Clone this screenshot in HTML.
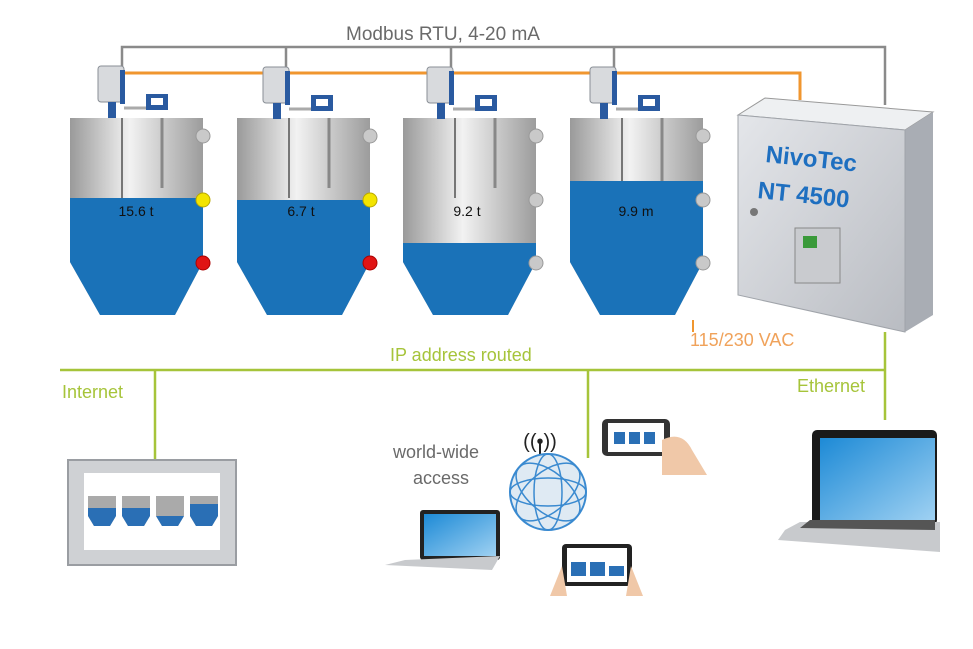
<!DOCTYPE html>
<html><head><meta charset="utf-8"><style>
html,body{margin:0;padding:0;background:#fff;}
svg{display:block;font-family:"Liberation Sans",sans-serif;}
</style></head><body>
<svg width="973" height="649" viewBox="0 0 973 649" xmlns="http://www.w3.org/2000/svg">
<defs>
<linearGradient id="steel" x1="0" x2="1">
<stop offset="0" stop-color="#9a9a9a"/><stop offset="0.45" stop-color="#f2f2f2"/><stop offset="1" stop-color="#9c9c9c"/>
</linearGradient>
<linearGradient id="cab" x1="0" x2="1" y1="0" y2="1">
<stop offset="0" stop-color="#e4e6ea"/><stop offset="1" stop-color="#b9bcc2"/>
</linearGradient>
<linearGradient id="scr" x1="0" x2="1" y1="0" y2="1">
<stop offset="0" stop-color="#1d8ad6"/><stop offset="1" stop-color="#9fd1f2"/>
</linearGradient>
<g id="tank">
<path d="M0 0H133V144L105 197H30L0 144Z" fill="url(#steel)"/>
<line x1="52" y1="0" x2="52" y2="80" stroke="#777" stroke-width="2"/>
<line x1="92" y1="0" x2="92" y2="70" stroke="#888" stroke-width="3"/>
</g>
<g id="xmit">
<rect x="0" y="0" width="26" height="36" rx="3" fill="#d8dadd" stroke="#8a8f96"/>
<rect x="22" y="4" width="5" height="34" fill="#2a5aa0"/>
<rect x="10" y="36" width="8" height="16" fill="#2a5aa0"/>
<line x1="26" y1="42" x2="50" y2="42" stroke="#aaa" stroke-width="3"/>
<rect x="48" y="28" width="22" height="16" fill="#2a5aa0"/>
<rect x="53" y="32" width="12" height="7" fill="#fff"/>
</g>
</defs>

<!-- Modbus gray line -->
<text x="443" y="40" font-size="19" fill="#6a6a6a" text-anchor="middle">Modbus RTU, 4-20 mA</text>
<polyline points="122,70 122,47 885,47 885,105" fill="none" stroke="#8a8a8a" stroke-width="2.5"/>
<line x1="286" y1="47" x2="286" y2="70" stroke="#8a8a8a" stroke-width="2.5"/>
<line x1="451" y1="47" x2="451" y2="70" stroke="#8a8a8a" stroke-width="2.5"/>
<line x1="614" y1="47" x2="614" y2="70" stroke="#8a8a8a" stroke-width="2.5"/>
<!-- orange -->
<polyline points="120,73 800,73 800,100" fill="none" stroke="#f0962f" stroke-width="3"/>

<!-- tanks -->
<g transform="translate(70,118)">
<use href="#tank"/>
<path d="M0 80H133V144L105 197H30L0 144Z" fill="#1a72b8"/>
<text x="66" y="98" font-size="14" text-anchor="middle" fill="#111">15.6  t</text>
<circle cx="133" cy="18" r="7" fill="#c9c9c9" stroke="#999"/>
<circle cx="133" cy="82" r="7" fill="#f3e400" stroke="#b9a800"/>
<circle cx="133" cy="145" r="7" fill="#e01414" stroke="#a00"/>
</g>
<g transform="translate(237,118)">
<use href="#tank"/>
<path d="M0 82H133V144L105 197H30L0 144Z" fill="#1a72b8"/>
<text x="64" y="98" font-size="14" text-anchor="middle" fill="#111">6.7  t</text>
<circle cx="133" cy="18" r="7" fill="#c9c9c9" stroke="#999"/>
<circle cx="133" cy="82" r="7" fill="#f3e400" stroke="#b9a800"/>
<circle cx="133" cy="145" r="7" fill="#e01414" stroke="#a00"/>
</g>
<g transform="translate(403,118)">
<use href="#tank"/>
<path d="M0 125H133V144L105 197H30L0 144Z" fill="#1a72b8"/>
<text x="64" y="98" font-size="14" text-anchor="middle" fill="#111">9.2  t</text>
<circle cx="133" cy="18" r="7" fill="#c9c9c9" stroke="#999"/>
<circle cx="133" cy="82" r="7" fill="#c9c9c9" stroke="#999"/>
<circle cx="133" cy="145" r="7" fill="#c9c9c9" stroke="#999"/>
</g>
<g transform="translate(570,118)">
<use href="#tank"/>
<path d="M0 63H133V144L105 197H30L0 144Z" fill="#1a72b8"/>
<text x="66" y="98" font-size="14" text-anchor="middle" fill="#111">9.9  m</text>
<circle cx="133" cy="18" r="7" fill="#c9c9c9" stroke="#999"/>
<circle cx="133" cy="82" r="7" fill="#c9c9c9" stroke="#999"/>
<circle cx="133" cy="145" r="7" fill="#c9c9c9" stroke="#999"/>
</g>
<use href="#xmit" x="98" y="66"/>
<use href="#xmit" x="263" y="67"/>
<use href="#xmit" x="427" y="67"/>
<use href="#xmit" x="590" y="67"/>

<!-- cabinet -->
<polygon points="738,115 765,98 933,112 905,130" fill="#eef0f2" stroke="#999"/>
<polygon points="905,130 933,112 933,315 905,332" fill="#a9adb4"/>
<polygon points="738,115 905,130 905,332 738,295" fill="url(#cab)" stroke="#a0a4aa"/>
<text transform="translate(765,162) rotate(6)" font-size="24" font-weight="bold" fill="#1e6fc0">NivoTec</text>
<text transform="translate(757,198) rotate(6)" font-size="24" font-weight="bold" fill="#1e6fc0">NT 4500</text>
<circle cx="754" cy="212" r="4" fill="#777"/>
<rect x="795" y="228" width="45" height="55" fill="#c9cbcf" stroke="#888"/>
<rect x="803" y="236" width="14" height="12" fill="#3a9a3a"/>

<!-- power & network -->
<line x1="693" y1="320" x2="693" y2="332" stroke="#f0962f" stroke-width="2"/>
<text x="690" y="346" font-size="18" fill="#f0a25a">115/230 VAC</text>
<text x="390" y="361" font-size="18" fill="#a6c43a">IP address routed</text>
<g stroke="#a6c43a" stroke-width="2.5" fill="none">
<polyline points="60,370 885,370"/>
<line x1="885" y1="332" x2="885" y2="420"/>
<line x1="155" y1="370" x2="155" y2="460"/>
<line x1="588" y1="370" x2="588" y2="458"/>
</g>
<text x="62" y="398" font-size="18" fill="#a6c43a">Internet</text>
<text x="797" y="392" font-size="18" fill="#a6c43a">Ethernet</text>

<!-- panel -->
<rect x="68" y="460" width="168" height="105" fill="#cfd1d4" stroke="#9a9da2" stroke-width="2"/>
<rect x="84" y="473" width="136" height="77" fill="#fff"/>
<g fill="#2a6fb5">
<path d="M88 496h28v20l-6 10h-16l-6-10z" fill="#aaa"/><path d="M88 508h28v8l-6 10h-16l-6-10z"/>
<path d="M122 496h28v20l-6 10h-16l-6-10z" fill="#aaa"/><path d="M122 508h28v8l-6 10h-16l-6-10z"/>
<path d="M156 496h28v20l-6 10h-16l-6-10z" fill="#aaa"/><path d="M156 516h28l-6 10h-16z"/>
<path d="M190 496h28v20l-6 10h-16l-6-10z" fill="#aaa"/><path d="M190 504h28v12l-6 10h-16l-6-10z"/>
</g>

<!-- world-wide -->
<text x="393" y="458" font-size="18" fill="#6a6a6a">world-wide</text>
<text x="413" y="484" font-size="18" fill="#6a6a6a">access</text>
<text x="540" y="448" font-size="20" text-anchor="middle" fill="#222">((•))</text>
<line x1="540" y1="442" x2="540" y2="458" stroke="#222" stroke-width="2"/>
<circle cx="548" cy="492" r="38" fill="#dfeaf3" stroke="#3a8ad0" stroke-width="2"/>
<ellipse cx="548" cy="492" rx="38" ry="14" fill="none" stroke="#3a8ad0" stroke-width="1.5"/>
<ellipse cx="548" cy="492" rx="14" ry="38" fill="none" stroke="#3a8ad0" stroke-width="1.5"/>
<ellipse cx="548" cy="492" rx="38" ry="20" transform="rotate(40 548 492)" fill="none" stroke="#3a8ad0" stroke-width="1.5"/>
<ellipse cx="548" cy="492" rx="38" ry="20" transform="rotate(-40 548 492)" fill="none" stroke="#3a8ad0" stroke-width="1.5"/>

<!-- small laptop -->
<rect x="420" y="510" width="80" height="50" rx="3" fill="#222"/>
<rect x="424" y="514" width="72" height="42" fill="url(#scr)"/>
<polygon points="405,560 500,556 492,570 385,565" fill="#c8cacd"/>

<!-- phone -->
<rect x="602" y="419" width="68" height="37" rx="5" fill="#333"/>
<rect x="608" y="423" width="56" height="29" fill="#fff"/>
<g fill="#2a6fb5"><rect x="614" y="432" width="11" height="12"/><rect x="629" y="432" width="11" height="12"/><rect x="644" y="432" width="11" height="12"/></g>
<path d="M662 440 q20 -10 30 10 l15 25 h-45 z" fill="#f0c8a8"/>

<!-- tablet -->
<rect x="562" y="544" width="70" height="42" rx="4" fill="#222"/>
<rect x="567" y="548" width="60" height="34" fill="#fff"/>
<g fill="#2a6fb5"><rect x="571" y="562" width="15" height="14"/><rect x="590" y="562" width="15" height="14"/><rect x="609" y="566" width="15" height="10"/></g>
<path d="M550 596 l12 -30 l5 30z M643 596 l-12 -30 l-5 30z" fill="#f0c8a8"/>

<!-- big laptop -->
<rect x="812" y="430" width="125" height="95" rx="5" fill="#1a1a1a"/>
<rect x="820" y="438" width="115" height="82" fill="url(#scr)"/>
<polygon points="800,522 940,522 940,552 778,540 785,530" fill="#c8cacd"/>
<polygon points="810,520 935,520 935,530 800,528" fill="#555"/>
</svg>
</body></html>
